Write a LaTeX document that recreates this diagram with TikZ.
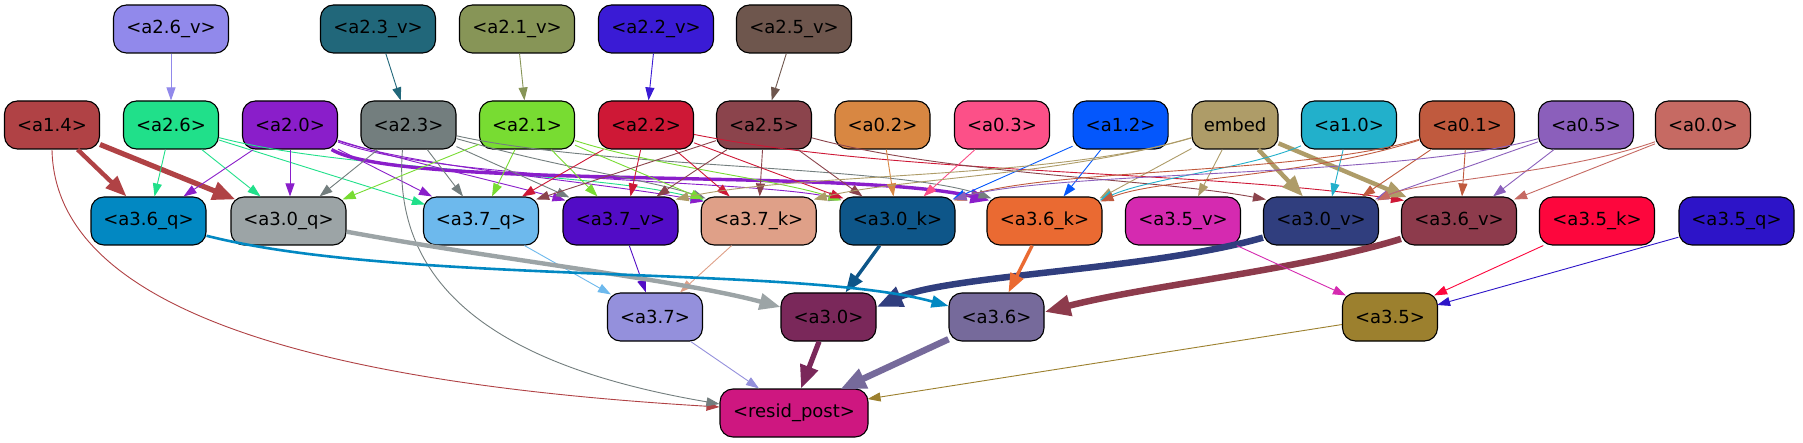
\documentclass[tikz,border=0pt]{standalone}
\usepackage{fontspec}
\setmainfont{DejaVu Sans}
\usetikzlibrary{arrows.meta,calc}
\definecolor{c26v}{HTML}{9189EB}
\definecolor{c23v}{HTML}{21677A}
\definecolor{c21v}{HTML}{879557}
\definecolor{c22v}{HTML}{3A1BD5}
\definecolor{c25v}{HTML}{6E564D}
\definecolor{c14}{HTML}{B04245}
\definecolor{c26}{HTML}{20E08A}
\definecolor{c20}{HTML}{8A1ECA}
\definecolor{c23}{HTML}{737E7E}
\definecolor{c21}{HTML}{78DC32}
\definecolor{c22}{HTML}{CE1836}
\definecolor{c25}{HTML}{8B444C}
\definecolor{c02}{HTML}{D88742}
\definecolor{c03}{HTML}{FC5088}
\definecolor{c12}{HTML}{0457FC}
\definecolor{cem}{HTML}{AE9C68}
\definecolor{c10}{HTML}{22B0CB}
\definecolor{c01}{HTML}{C05A3E}
\definecolor{c05}{HTML}{8B5FBB}
\definecolor{c00}{HTML}{C66A63}
\definecolor{c36q}{HTML}{0288C2}
\definecolor{c30q}{HTML}{9CA4A6}
\definecolor{c37q}{HTML}{6DB9ED}
\definecolor{c37v}{HTML}{520CC6}
\definecolor{c37k}{HTML}{DFA088}
\definecolor{c30k}{HTML}{0E5689}
\definecolor{c36k}{HTML}{EA6A32}
\definecolor{c35v}{HTML}{D52AB0}
\definecolor{c30v}{HTML}{303E7E}
\definecolor{c36v}{HTML}{8D3B4C}
\definecolor{c35k}{HTML}{FD063D}
\definecolor{c35q}{HTML}{2D14C8}
\definecolor{c37}{HTML}{9490DC}
\definecolor{c30}{HTML}{7A285A}
\definecolor{c36}{HTML}{766A9B}
\definecolor{c35}{HTML}{9C802E}
\definecolor{cres}{HTML}{CE1780}
\begin{document}
\begin{tikzpicture}[x=1pt,y=-1pt,
  nd/.style={draw=black, line width=1.1pt, rounded corners=13pt, minimum height=48pt, inner sep=0pt, font=\fontsize{18}{20}\selectfont, text=black},
  wv/.style={nd, minimum width=115pt},
  ws/.style={nd, minimum width=95pt},
  ed/.style={line width=0.9pt, -{Triangle[length=13pt,width=9pt]}},
  edb/.style={line width=2.6pt, -{Triangle[length=17pt,width=12pt]}},
  edc/.style={line width=3.4pt, -{Triangle[length=19pt,width=14pt]}},
  edd/.style={line width=4.4pt, -{Triangle[length=21pt,width=16pt]}},
  ede/.style={line width=5.2pt, -{Triangle[length=23pt,width=18pt]}},
  edf/.style={line width=6.5pt, -{Triangle[length=26pt,width=20pt]}}
]
\fill[white] (0,0) rectangle (1803,443);
\useasboundingbox (0,0) rectangle (1803,443);
% row 1
\node[wv, fill=c26v] (a26v) at (171,29) {<a2.6\_v>};
\node[wv, fill=c23v] (a23v) at (378,29) {<a2.3\_v>};
\node[wv, fill=c21v] (a21v) at (517,29) {<a2.1\_v>};
\node[wv, fill=c22v] (a22v) at (656,29) {<a2.2\_v>};
\node[wv, fill=c25v] (a25v) at (794,29) {<a2.5\_v>};
% row 2
\node[ws, fill=c14] (a14) at (52,125) {<a1.4>};
\node[ws, fill=c26] (a26) at (171,125) {<a2.6>};
\node[ws, fill=c20] (a20) at (290,125) {<a2.0>};
\node[ws, fill=c23] (a23) at (408.5,125) {<a2.3>};
\node[ws, fill=c21] (a21) at (527,125) {<a2.1>};
\node[ws, fill=c22] (a22) at (646,125) {<a2.2>};
\node[ws, fill=c25] (a25) at (764,125) {<a2.5>};
\node[ws, fill=c02] (a02) at (882.5,125) {<a0.2>};
\node[ws, fill=c03] (a03) at (1002,125) {<a0.3>};
\node[ws, fill=c12] (a12) at (1120.6,125) {<a1.2>};
\node[nd, minimum width=86pt, fill=cem] (emb) at (1235,125) {embed};
\node[ws, fill=c10] (a10) at (1349,125) {<a1.0>};
\node[ws, fill=c01] (a01) at (1467,125) {<a0.1>};
\node[ws, fill=c05] (a05) at (1586,125) {<a0.5>};
\node[ws, fill=c00] (a00) at (1703,125) {<a0.0>};
% row 3
\node[wv, fill=c36q] (a36q) at (148.5,221) {<a3.6\_q>};
\node[wv, fill=c30q] (a30q) at (288.5,221) {<a3.0\_q>};
\node[wv, fill=c37q] (a37q) at (481,221) {<a3.7\_q>};
\node[wv, fill=c37v] (a37v) at (620.5,221) {<a3.7\_v>};
\node[wv, fill=c37k] (a37k) at (758.7,221) {<a3.7\_k>};
\node[wv, fill=c30k] (a30k) at (897.5,221) {<a3.0\_k>};
\node[wv, fill=c36k] (a36k) at (1044.5,221) {<a3.6\_k>};
\node[wv, fill=c35v] (a35v) at (1183,221) {<a3.5\_v>};
\node[wv, fill=c30v] (a30v) at (1321,221) {<a3.0\_v>};
\node[wv, fill=c36v] (a36v) at (1459,221) {<a3.6\_v>};
\node[wv, fill=c35k] (a35k) at (1597,221) {<a3.5\_k>};
\node[wv, fill=c35q] (a35q) at (1736.5,221) {<a3.5\_q>};
% row 4
\node[ws, fill=c37] (a37) at (655,317) {<a3.7>};
\node[ws, fill=c30] (a30) at (828.5,317) {<a3.0>};
\node[ws, fill=c36] (a36) at (996.5,317) {<a3.6>};
\node[ws, fill=c35] (a35) at (1390,317) {<a3.5>};
% row 5
\node[nd, minimum width=148pt, fill=cres] (resid) at (794,413) {<resid\_post>};

% row1 -> row2
\draw[ed,c26v] (a26v) -- (a26);
\draw[ed,c23v] (a23v) -- (a23);
\draw[ed,c21v] (a21v) -- (a21);
\draw[ed,c22v] (a22v) -- (a22);
\draw[ed,c25v] (a25v) -- (a25);

% a1.4
\draw[edd,c14] (a14) -- ([xshift=-22pt]a36q.north);
\draw[ede,c14] (a14) -- ([xshift=5pt,yshift=-3pt]a30q.north west);
\draw[ed,c14] (a14.south) .. controls (55,320) and (350,385) .. ([yshift=6pt]resid.west);

% a2.6
\draw[ed,c26] (a26) -- ([xshift=6pt]a36q.north);
\draw[ed,c26] (a26) -- ([xshift=-28pt]a30q.north);
\draw[ed,c26] (a26) -- ([xshift=2pt,yshift=-8pt]a37q.north west);
\draw[ed,c26] (a26) .. controls (350,172) and (600,172) .. ([xshift=3pt,yshift=-4pt]a37k.north west);

% a2.0
\draw[ed,c20] (a20) -- ([xshift=35pt]a36q.north);
\draw[ed,c20] (a20) -- ([xshift=1.5pt]a30q.north);
\draw[ed,c20] (a20) -- ([xshift=-49pt]a37q.north);
\draw[ed,c20] (a20) .. controls (400,160) and (500,182) .. ([xshift=3pt,yshift=-4pt]a37v.north west);
\draw[ed,c20] (a20) .. controls (420,168) and (600,182) .. ([xshift=3pt,yshift=-5pt]a37k.north west);
\draw[ed,c20] (a20) .. controls (450,182) and (750,180) .. ([xshift=2pt,yshift=-3pt]a30k.north west);
\draw[edc,c20] (a20) .. controls (400,190) and (850,168) .. ([xshift=3pt,yshift=-4pt]a36k.north west);

% a2.3
\draw[ed,c23] (a23) -- ([xshift=31pt]a30q.north);
\draw[ed,c23] (a23) -- ([xshift=-18pt]a37q.north);
\draw[ed,c23] (a23) -- ([xshift=7pt,yshift=-1pt]a37v.north west);
\draw[ed,c23] ([xshift=-6pt]a23.south) .. controls (390,300) and (520,370) .. ([yshift=9pt]resid.west);
\draw[ed,c23] (a23) .. controls (560,168) and (650,180) .. ([xshift=5pt,yshift=-2pt]a37k.north west);
\draw[ed,c23] (a23) .. controls (600,168) and (900,166) .. ([xshift=5pt,yshift=-2pt]a36k.north west);

% a2.1
\draw[ed,c21] (a21) -- ([xshift=-4pt,yshift=-3pt]a30q.north east);
\draw[ed,c21] (a21) -- ([xshift=11pt]a37q.north);
\draw[ed,c21] (a21) -- ([xshift=-23pt]a37v.north);
\draw[ed,c21] (a21) -- ([xshift=3pt,yshift=-3pt]a37k.north west);
\draw[ed,c21] (a21) .. controls (650,165) and (780,180) .. ([xshift=2pt,yshift=-4pt]a30k.north west);

% a2.2
\draw[ed,c22] (a22) -- ([xshift=41pt]a37q.north);
\draw[ed,c22] (a22) -- ([xshift=10pt]a37v.north);
\draw[ed,c22] (a22) -- ([xshift=-29pt]a37k.north);
\draw[ed,c22] (a22) -- ([xshift=4pt,yshift=-2pt]a30k.north west);
\draw[ed,c22] (a22) .. controls (900,175) and (1200,170) .. ([xshift=3pt,yshift=-4pt]a36v.north west);

% a2.5
\draw[ed,c25] (a25) -- ([xshift=-3pt,yshift=-3pt]a37q.north east);
\draw[ed,c25] (a25) -- ([xshift=36pt]a37v.north);
\draw[ed,c25] (a25) -- ([xshift=1pt]a37k.north);
\draw[ed,c25] (a25) -- ([xshift=-35pt]a30k.north);
\draw[ed,c25] (a25) .. controls (950,175) and (1150,178) .. ([xshift=3pt,yshift=-3pt]a30v.north west);

% a0.2, a0.3, a1.2
\draw[ed,c02] (a02) -- ([xshift=-4pt]a30k.north);
\draw[ed,c03] (a03) -- ([xshift=26pt]a30k.north);
\draw[ed,c12] (a12) -- ([xshift=-3pt,yshift=-3pt]a30k.north east);
\draw[ed,c12] (a12) -- ([xshift=19pt]a36k.north);

% embed
\draw[ed,cem] (emb) .. controls (1050,180) and (800,172) .. ([xshift=-3pt,yshift=-3pt]a37v.north east);
\draw[ed,cem] (emb) .. controls (1060,176) and (900,178) .. ([xshift=-3pt,yshift=-3pt]a37k.north east);
\draw[ed,cem] (emb) -- ([xshift=-3pt,yshift=-2pt]a36k.north east);
\draw[ed,cem] (emb) -- ([xshift=15pt]a35v.north);
\draw[edd,cem] (emb) -- ([xshift=-18pt]a30v.north);
\draw[edd,cem] (emb) -- ([xshift=6pt,yshift=-1pt]a36v.north west);

% a1.0
\draw[ed,c10] (a10) -- ([xshift=11pt]a30v.north);
\draw[ed,c10] (a10) .. controls (1250,168) and (1150,178) .. ([xshift=-3pt,yshift=-4pt]a36k.north east);

% a0.1
\draw[ed,c01] (a01) .. controls (1300,175) and (1050,168) .. ([xshift=-2pt,yshift=-4pt]a30k.north east);
\draw[ed,c01] (a01) .. controls (1300,178) and (1160,178) .. ([xshift=-2pt,yshift=-5pt]a36k.north east);
\draw[ed,c01] (a01) -- ([xshift=41pt]a30v.north);
\draw[ed,c01] (a01) -- ([xshift=3pt]a36v.north);

% a0.5
\draw[ed,c05] (a05) .. controls (1400,178) and (1060,170) .. ([xshift=-2pt,yshift=-3pt]a30k.north east);
\draw[ed,c05] (a05) -- ([xshift=-4pt,yshift=-3pt]a30v.north east);
\draw[ed,c05] (a05) -- ([xshift=34pt]a36v.north);

% a0.0
\draw[ed,c00] (a00) .. controls (1560,175) and (1420,180) .. ([xshift=-2pt,yshift=-4pt]a30v.north east);
\draw[ed,c00] (a00) -- ([xshift=-3pt,yshift=-3pt]a36v.north east);

% row3 -> row4
\draw[ed,c37q] (a37q) -- ([xshift=4pt,yshift=-2pt]a37.north west);
\draw[ed,c37v] (a37v) -- ([xshift=-9pt]a37.north);
\draw[ed,c37k] (a37k) -- ([xshift=25pt]a37.north);
\draw[edd,c30q] (a30q) .. controls (500,260) and (680,280) .. ([yshift=10pt]a30.west);
\draw[edc,c30k] (a30k) -- ([xshift=17pt]a30.north);
\draw[edf,c30v] (a30v) .. controls (1150,270) and (950,275) .. ([yshift=10pt]a30.east);
\draw[edb,c36q] (a36q) .. controls (400,285) and (800,265) .. ([yshift=11pt]a36.west);
\draw[edc,c36k] (a36k) -- ([xshift=12pt]a36.north);
\draw[edf,c36v] (a36v) .. controls (1300,270) and (1150,285) .. ([yshift=5pt]a36.east);
\draw[ed,c35v] (a35v) -- ([xshift=4pt,yshift=-3pt]a35.north west);
\draw[ed,c35k] (a35k) -- ([xshift=-4pt,yshift=-3pt]a35.north east);
\draw[ed,c35q] (a35q) -- ([xshift=-1pt,yshift=12pt]a35.east);

% row4 -> resid
\draw[ed,c37] (a37) -- ([xshift=-35pt]resid.north);
\draw[ede,c30] (a30) -- ([xshift=7pt]resid.north);
\draw[edf,c36] (a36) -- ([xshift=46pt,yshift=-1pt]resid.north);
\draw[ed,c35] (a35) -- ([xshift=-1pt,yshift=14pt]resid.east);
\end{tikzpicture}
\end{document}
